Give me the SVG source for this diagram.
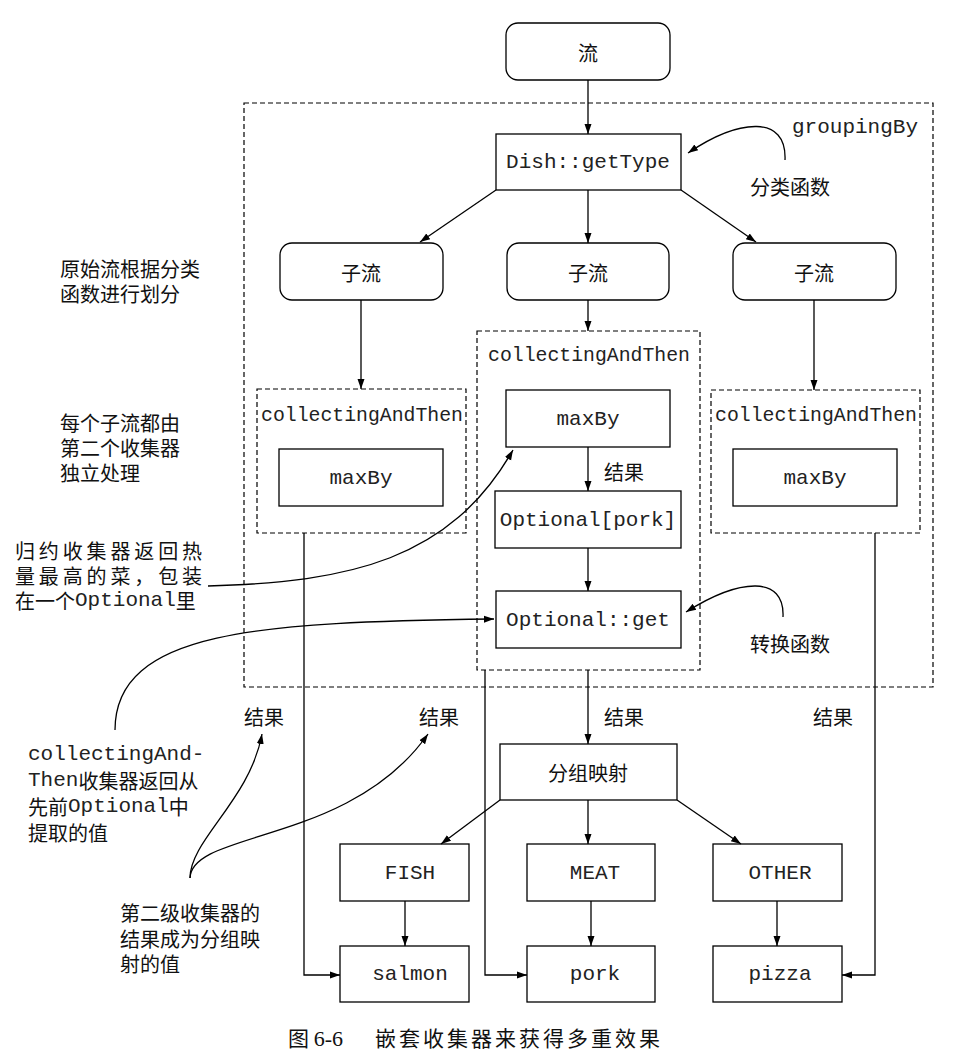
<svg xmlns="http://www.w3.org/2000/svg" width="980" height="1060" viewBox="0 0 980 1060">
<style>
.box{fill:#fff;stroke:#000;stroke-width:1.3}
.dash{fill:none;stroke:#000;stroke-width:1.2;stroke-dasharray:5 3}
.ln{fill:none;stroke:#000;stroke-width:1.3}
.arr{fill:none;stroke:#000;stroke-width:1.3;marker-end:url(#ah)}
.cjk{font-family:"Noto Sans CJK SC","Noto Sans CJK JP",sans-serif;font-size:20px;fill:#111}
.mono{font-family:"Liberation Mono","DejaVu Sans Mono",monospace;font-size:21px;fill:#222}
.c{text-anchor:middle;dominant-baseline:central}
.l{text-anchor:start;dominant-baseline:central}
</style>
<defs>
<marker id="ah" viewBox="0 0 10 10" refX="10" refY="5" markerWidth="10" markerHeight="10" markerUnits="userSpaceOnUse" orient="auto">
<path d="M0,1.5 L10,5 L0,8.5 z" fill="#000"/>
</marker>
</defs>
<rect width="980" height="1060" fill="#fff"/>

<g id="groupingBy">
<rect class="dash" x="244" y="103" width="689" height="584"/>
<text class="mono l" x="792" y="127" fill="#333">groupingBy</text>
</g>

<g id="stream"><rect class="box" x="506" y="23" width="164" height="57" rx="12"/><text class="cjk c" x="588" y="52">流</text></g>
<g id="dish"><rect class="box" x="496" y="134" width="185" height="56"/><text class="mono c" x="588" y="162">Dish::getType</text></g>
<g id="label-classify"><text class="cjk l" x="750" y="186">分类函数</text></g>

<g id="sub1"><rect class="box" x="280" y="243" width="163" height="57" rx="12"/><text class="cjk c" x="361" y="272">子流</text></g>
<g id="sub2"><rect class="box" x="507" y="243" width="162" height="57" rx="12"/><text class="cjk c" x="588" y="272">子流</text></g>
<g id="sub3"><rect class="box" x="733" y="243" width="163" height="57" rx="12"/><text class="cjk c" x="814" y="272">子流</text></g>

<g id="cat1">
<rect class="dash" x="257" y="389" width="209" height="144"/>
<text class="mono l" x="261" y="415" textLength="202" lengthAdjust="spacingAndGlyphs">collectingAndThen</text>
</g>
<g id="maxBy1"><rect class="box" x="279" y="449" width="164" height="57"/><text class="mono c" x="361" y="478">maxBy</text></g>

<g id="cat2">
<rect class="dash" x="477" y="331" width="223" height="339"/>
<text class="mono l" x="488" y="355" textLength="202" lengthAdjust="spacingAndGlyphs">collectingAndThen</text>
</g>
<g id="maxBy2"><rect class="box" x="506" y="390" width="164" height="57"/><text class="mono c" x="588" y="419">maxBy</text></g>
<g id="optPork"><rect class="box" x="495" y="491" width="186" height="57"/><text class="mono c" x="588" y="520">Optional[pork]</text></g>
<g id="optGet"><rect class="box" x="496" y="591" width="185" height="57"/><text class="mono c" x="588" y="620">Optional::get</text></g>

<g id="cat3">
<rect class="dash" x="711" y="390" width="209" height="143"/>
<text class="mono l" x="715" y="415" textLength="202" lengthAdjust="spacingAndGlyphs">collectingAndThen</text>
</g>
<g id="maxBy3"><rect class="box" x="733" y="449" width="164" height="57"/><text class="mono c" x="815" y="478">maxBy</text></g>

<g id="label-transform"><text class="cjk l" x="750" y="643">转换函数</text></g>

<g id="groupMap"><rect class="box" x="500" y="744" width="177" height="56"/><text class="cjk c" x="588" y="772">分组映射</text></g>
<g id="fish"><rect class="box" x="340" y="844" width="129" height="57"/><text class="mono c" x="410" y="873">FISH</text></g>
<g id="meat"><rect class="box" x="527" y="844" width="128" height="57"/><text class="mono c" x="595" y="873">MEAT</text></g>
<g id="other"><rect class="box" x="713" y="844" width="129" height="57"/><text class="mono c" x="780" y="873">OTHER</text></g>
<g id="salmon"><rect class="box" x="340" y="946" width="129" height="56"/><text class="mono c" x="410" y="974">salmon</text></g>
<g id="pork"><rect class="box" x="527" y="946" width="128" height="56"/><text class="mono c" x="595" y="974">pork</text></g>
<g id="pizza"><rect class="box" x="713" y="946" width="129" height="56"/><text class="mono c" x="780" y="974">pizza</text></g>

<g id="result-labels">
<text class="cjk c" x="264" y="716">结果</text>
<text class="cjk c" x="439" y="716">结果</text>
<text class="cjk c" x="624" y="716">结果</text>
<text class="cjk c" x="833" y="716">结果</text>
<text class="cjk c" x="624" y="471">结果</text>
</g>

<g id="notes">
<text class="cjk l" x="60" y="268">原始流根据分类</text>
<text class="cjk l" x="60" y="293">函数进行划分</text>
<text class="cjk l" x="60" y="422">每个子流都由</text>
<text class="cjk l" x="60" y="447">第二个收集器</text>
<text class="cjk l" x="60" y="472">独立处理</text>
<text class="cjk l" x="15" y="550" textLength="187" lengthAdjust="spacing">归约收集器返回热</text>
<text class="cjk l" x="15" y="575" textLength="187" lengthAdjust="spacing">量最高的菜，包装</text>
<text class="cjk l" x="15" y="600">在一个<tspan class="mono" font-size="21">Optional</tspan>里</text>
<text class="mono l" x="28" y="754">collectingAnd-</text>
<text class="cjk l" x="28" y="780"><tspan class="mono">Then</tspan>收集器返回从</text>
<text class="cjk l" x="28" y="806">先前<tspan class="mono">Optional</tspan>中</text>
<text class="cjk l" x="28" y="832">提取的值</text>
<text class="cjk l" x="120" y="912">第二级收集器的</text>
<text class="cjk l" x="120" y="938">结果成为分组映</text>
<text class="cjk l" x="120" y="963">射的值</text>
</g>

<g id="connectors">
<line class="arr" x1="588" y1="80" x2="588" y2="134"/>
<line class="arr" x1="496" y1="190" x2="420" y2="242"/>
<line class="arr" x1="588" y1="190" x2="588" y2="243"/>
<line class="arr" x1="681" y1="190" x2="756" y2="242"/>
<line class="arr" x1="361" y1="300" x2="361" y2="389"/>
<line class="arr" x1="588" y1="300" x2="588" y2="331"/>
<line class="arr" x1="814" y1="300" x2="814" y2="390"/>
<line class="arr" x1="588" y1="447" x2="588" y2="491"/>
<line class="arr" x1="588" y1="548" x2="588" y2="591"/>
<path class="arr" d="M785,160 C787,115 740,118 688,153"/>
<path class="arr" d="M783,617 C785,575 740,578 686,612"/>
<path class="arr" d="M208,586 C350,582 450,560 513,450"/>
<path class="arr" d="M115,730 C115,630 260,622 494,619"/>
<line class="arr" x1="588" y1="670" x2="588" y2="744"/>
<line class="arr" x1="500" y1="800" x2="441" y2="844"/>
<line class="arr" x1="588" y1="800" x2="588" y2="844"/>
<line class="arr" x1="677" y1="800" x2="741" y2="844"/>
<line class="arr" x1="405" y1="901" x2="405" y2="946"/>
<line class="arr" x1="591" y1="901" x2="591" y2="946"/>
<line class="arr" x1="777" y1="901" x2="777" y2="946"/>
<polyline class="arr" points="304,533 304,975 340,975"/>
<polyline class="arr" points="485,670 485,975 527,975"/>
<polyline class="arr" points="875,533 875,975 842,975"/>
<path class="arr" d="M190,878 C190,840 250,800 262,734"/>
<path class="arr" d="M190,878 C192,830 350,845 428,734"/>
</g>

<g id="caption">
<text x="288" y="1046" font-family="Noto Sans CJK SC, sans-serif" font-size="21" fill="#111">图 <tspan font-family="Liberation Serif, serif" font-size="22">6-6</tspan></text>
<text x="375" y="1046" font-family="Noto Sans CJK SC, sans-serif" font-size="21" fill="#111" textLength="285" lengthAdjust="spacing">嵌套收集器来获得多重效果</text>
</g>
</svg>
